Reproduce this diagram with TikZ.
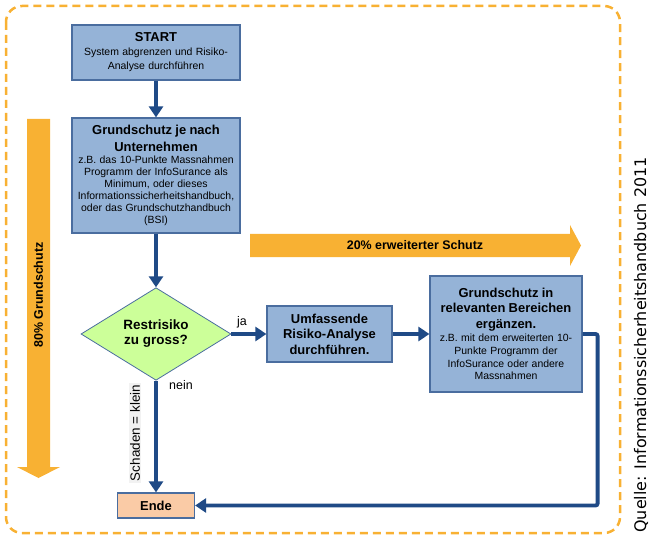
\documentclass[tikz,border=0pt]{standalone}
\usepackage{fontspec}
\setmainfont{Liberation Sans}
\newfontfamily\quellefont{DejaVu Sans}
\usetikzlibrary{shapes.geometric,arrows.meta,positioning}
\definecolor{boxblue}{HTML}{95B3D7}
\definecolor{boxline}{HTML}{4A6D9F}
\definecolor{flowblue}{HTML}{1F4A86}
\definecolor{bigorange}{HTML}{F8B133}
\definecolor{riskgreen}{HTML}{CCFF99}
\definecolor{endpeach}{HTML}{FACBA6}
\newcommand{\headfont}{\fontsize{13}{15.5}\selectfont\bfseries}
\newcommand{\smallfont}{\fontsize{10.5}{12}\selectfont\mdseries}
\begin{document}
\begin{tikzpicture}[x=1bp,y=-1bp,
    stepbox/.style={draw=boxline,line width=1.2bp,fill=boxblue,align=center,inner sep=1bp},
    flow/.style={draw=flowblue,line width=3.8bp,-{Triangle[width=14bp,length=11bp]}},
    label/.style={font=\fontsize{12.5}{14}\selectfont}]
  \useasboundingbox (0,0) rectangle (656,542);
  \draw[bigorange,line width=2.5bp,dash pattern=on 8bp off 5bp,rounded corners=16bp] (6,6) rectangle (620,533);
  \fill[bigorange] (27,119) -- (50,119) -- (50,467) -- (60,467) -- (38.5,478) -- (17,467) -- (27,467) -- cycle;
  \node[rotate=90,font=\fontsize{12.5}{14}\selectfont\bfseries] (grundlabel) at (38.5,295) {80\% Grundschutz};
  \fill[bigorange] (250,234) -- (570,234) -- (570,225) -- (581,245.5) -- (570,266) -- (570,257) -- (250,257) -- cycle;
  \node[font=\fontsize{12.5}{14}\selectfont\bfseries] (schutzlabel) at (415,245.5) {20\% erweiterter Schutz};

  \node[stepbox,minimum width=168bp,minimum height=55bp,text width=164bp] (start) at (156,52.5)
    {\headfont START\par\fontsize{10.5}{14}\selectfont\mdseries System abgrenzen und Risiko-\\Analyse durchführen\par};
  \node[stepbox,minimum width=168bp,minimum height=115bp,text width=164bp] (basis) at (156,175.5)
    {\fontsize{13}{17}\selectfont\bfseries Grundschutz je nach\\Unternehmen\par
     \smallfont z.B. das 10-Punkte Massnahmen\\Programm der InfoSurance als\\Minimum, oder dieses\\Informationssicherheitshandbuch,\\oder das Grundschutzhandbuch\\(BSI)\par};
  \node[diamond,draw=boxline,line width=0.8bp,fill=riskgreen,minimum width=150bp,minimum height=88bp,
        inner sep=0bp,align=center,font=\fontsize{13.5}{15}\selectfont\bfseries] (risk) at (156,334)
    {Restrisiko\\zu gross?};
  \node[stepbox,minimum width=125bp,minimum height=56bp,font=\headfont] (analyse) at (329.5,334)
    {Umfassende\\Risiko-Analyse\\durchführen.};
  \node[stepbox,minimum width=152bp,minimum height=116bp,text width=148bp] (ergaenzen) at (506,334)
    {\headfont Grundschutz in\\relevanten Bereichen\\ergänzen.\par
     \fontsize{10.5}{13}\selectfont\mdseries z.B. mit dem erweiterten 10-\\Punkte Programm der\\InfoSurance oder andere\\Massnahmen\par};
  \node[draw=boxline,line width=1.2bp,fill=endpeach,minimum width=77bp,minimum height=25bp,
        font=\fontsize{13}{14}\selectfont\bfseries] (ende) at (156,505.5) {Ende};

  \draw[flow] (start) -- (basis);
  \draw[flow] (basis) -- (risk);
  \draw[flow] (risk.east) -- node[above,pos=0.3,label,yshift=1bp] {ja} (analyse);
  \draw[flow] (analyse) -- (ergaenzen);
  \draw[flow,rounded corners=2bp] (ergaenzen.east) -- ++(15,0) |- (ende.east);
  \draw[flow] (risk.south) -- (ende);
  \node[label] (nein) at (181,385) {nein};
  \node[rotate=90,fill=black!5,inner sep=1.5bp,font=\fontsize{13.5}{15}\selectfont] (schaden) at (135,433) {Schaden = klein};
  \node[rotate=90,font=\fontsize{16}{18}\selectfont\quellefont] (quelle) at (641,345) {Quelle: Informationssicherheitshandbuch 2011};
\end{tikzpicture}
\end{document}
